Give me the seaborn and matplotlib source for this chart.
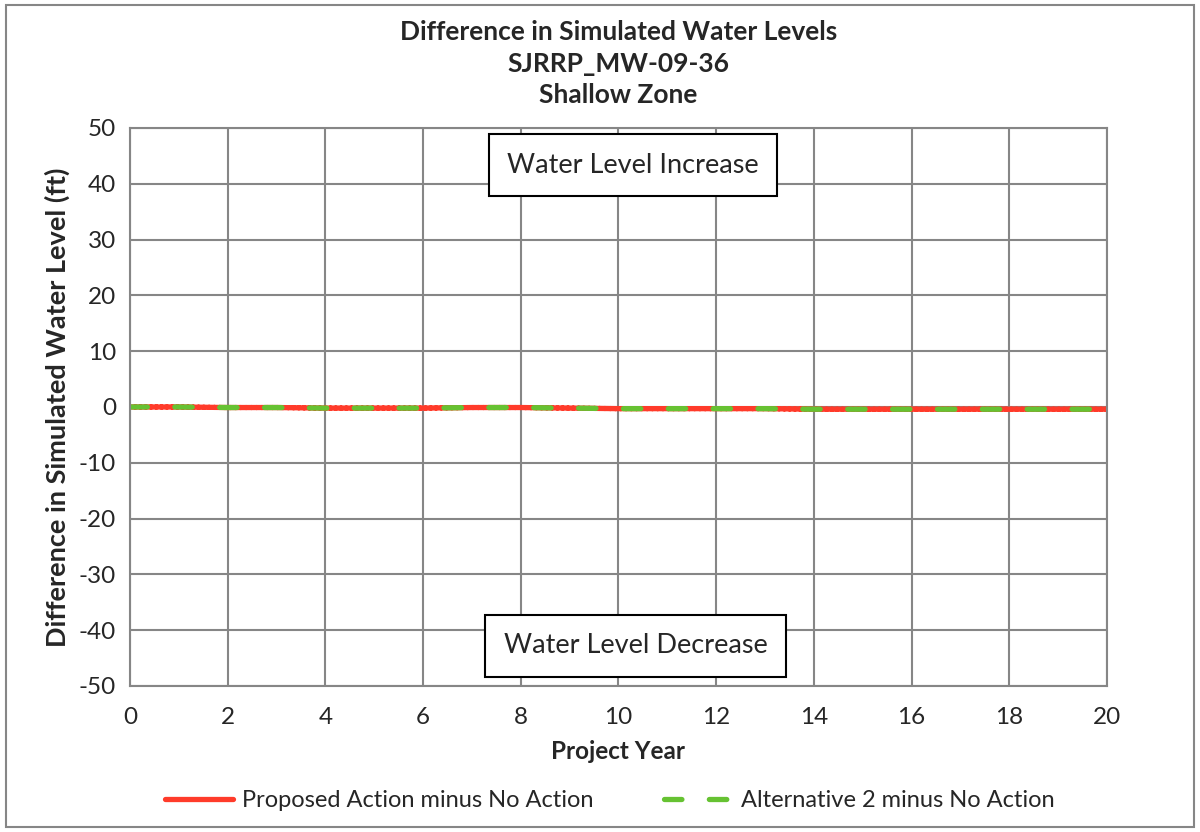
import numpy as np
import pandas as pd
import matplotlib
matplotlib.use('Agg')
import matplotlib.pyplot as plt
from matplotlib.lines import Line2D
import seaborn as sns

# data
years = list(range(0, 21))
proposed = [0.0, 0.0, -0.1, -0.1, -0.2, -0.2, -0.2, -0.1, -0.1, -0.2, -0.3,
            -0.3, -0.3, -0.3, -0.4, -0.4, -0.4, -0.4, -0.4, -0.4, -0.4]
alternative = [0.0, 0.0, -0.1, -0.1, -0.2, -0.2, -0.2, -0.1, -0.1, -0.2, -0.3,
               -0.3, -0.3, -0.3, -0.4, -0.4, -0.4, -0.4, -0.4, -0.4, -0.4]
series_names = ['Proposed Action minus No Action', 'Alternative 2 minus No Action']
title_lines = ['Difference in Simulated Water Levels', 'SJRRP_MW-09-36', 'Shallow Zone']

c_rojo = '#FF3B2A'
c_verde = '#66C232'
c_gris = '#868686'
guiones = (3.3, 5.2)

sns.set_style('white')
plt.rcParams['font.family'] = ['Lato', 'DejaVu Sans']
plt.rcParams['axes.unicode_minus'] = False

df = pd.DataFrame({'year': years, series_names[0]: proposed, series_names[1]: alternative})
df_long = df.melt(id_vars='year', var_name='serie', value_name='diff')

fig = plt.figure(figsize=(12, 8.32), dpi=100)
ax = fig.add_axes([0.1083, 0.1755, 0.8142, 0.6707])

sns.lineplot(data=df_long, x='year', y='diff', hue='serie', style='serie',
             palette=[c_rojo, c_verde], dashes=[(1, 0), guiones],
             linewidth=3.8, ax=ax, legend=False)
for line in ax.get_lines():
    line.set_solid_capstyle('round')
    line.set_dash_capstyle('round')

ax.set_xlim(0, 20)
ax.set_ylim(-50, 50)
ax.set_xticks(range(0, 21, 2))
ax.set_yticks(range(-50, 51, 10))
ax.grid(True, color=c_gris, linewidth=1.5)
ax.set_axisbelow(True)
for sp in ax.spines.values():
    sp.set_color(c_gris)
    sp.set_linewidth(1.5)
ax.tick_params(axis='both', direction='out', length=4, width=1.5, color=c_gris,
               labelsize=17.5)
ax.tick_params(axis='x', pad=11)
ax.tick_params(axis='y', pad=6)

ax.set_xlabel('Project Year', fontsize=17.5, fontweight='bold', labelpad=9)
ax.set_ylabel('Difference in Simulated Water Level (ft)', fontsize=19.5,
              fontweight='bold', labelpad=6)

for i, t in enumerate(title_lines):
    fig.text(0.5155, 0.961 - i * 0.0375, t, ha='center', va='center',
             fontsize=19, fontweight='bold')

box = dict(boxstyle='square,pad=0.68', facecolor='white', edgecolor='black', linewidth=1.5)
ax.text(10.3, 43.3, 'Water Level Increase', ha='center', va='center', fontsize=19.5, bbox=box)
ax.text(10.35, -42.8, 'Water Level Decrease', ha='center', va='center', fontsize=19.5, bbox=box)

# legend below the axes
handles = [Line2D([0], [0], color=c_rojo, lw=3.8, solid_capstyle='round'),
           Line2D([0], [0], color=c_verde, lw=3.8, dashes=guiones, dash_capstyle='round')]
fig.legend(handles, series_names, loc='center', bbox_to_anchor=(0.508, 0.038),
           ncol=2, frameon=False, fontsize=17, handlelength=2.9, handletextpad=0.35,
           columnspacing=3)

# outer border of the chart
fig.patches.append(plt.Rectangle((0.005, 0.006), 0.99, 0.988, transform=fig.transFigure,
                                 fill=False, edgecolor=c_gris, linewidth=1.5))

fig.savefig('out.png', dpi=100)
